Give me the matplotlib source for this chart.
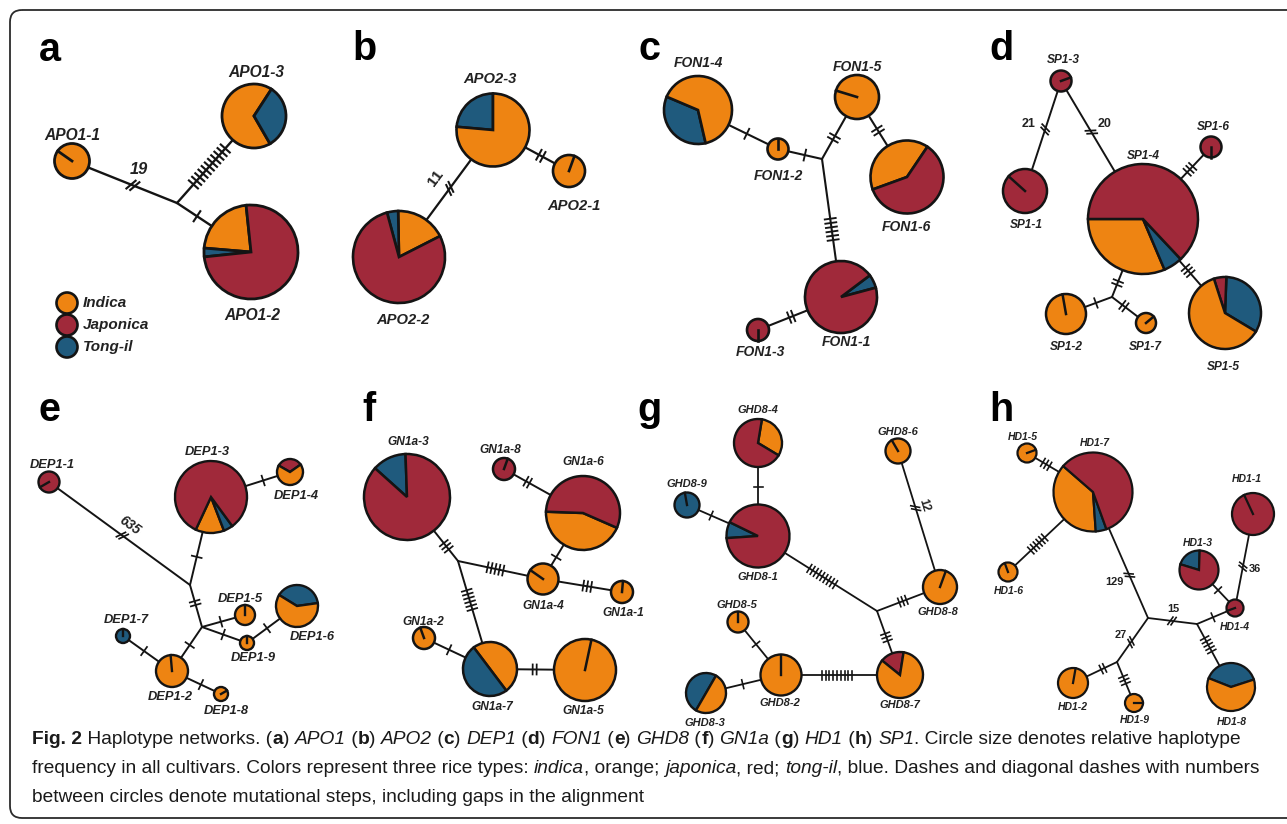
import numpy as np
import matplotlib
matplotlib.use('Agg')
import matplotlib.pyplot as plt
from matplotlib.patches import Wedge, Circle, FancyBboxPatch

# haplotype networks, layout in pixels of the 1287x824 page (y downwards)
# node: (name, x, y, radius, start angle of first slice, [(type, fraction), ...])
# type I = indica, J = japonica, T = tong-il; radius 0 = median vector (junction)
APO1_nodes = [
    ('APO1-1', 72, 161, 17.5, 145, [('I', 1.0)]),
    ('APO1-3', 254, 116, 32, 57, [('I', .675), ('T', .325)]),
    ('APO1-2', 251, 252, 47, 96, [('I', .22), ('T', .03), ('J', .75)]),
    ('ja', 177, 203, 0, 0, []),
]
# edge: (from, to, mutational steps, position along edge, number, number offset)
APO1_edges = [('APO1-1', 'ja', 2, .58, '19', 17), ('ja', 'APO1-3', 11, .42, None, 0),
              ('ja', 'APO1-2', 1, .27, None, 0)]
APO1_labels = {'APO1-1': (0, -26), 'APO1-3': (2, -44), 'APO1-2': (1, 63)}

APO2_nodes = [
    ('APO2-3', 493, 130, 36.5, 90, [('T', .236), ('I', .764)]),
    ('APO2-1', 569, 171, 16, 70, [('I', 1.0)]),
    ('APO2-2', 399, 257, 46, 27, [('I', .178), ('T', .039), ('J', .783)]),
]
APO2_edges = [('APO2-3', 'APO2-2', 2, .46, '11', -18), ('APO2-3', 'APO2-1', 2, .63, None, 0)]
APO2_labels = {'APO2-3': (-3, -51), 'APO2-1': (5, 35), 'APO2-2': (4, 63)}

FON1_nodes = [
    ('FON1-4', 698, 110, 34, 157, [('T', .35), ('I', .65)]),
    ('FON1-2', 778, 149, 10.5, 90, [('I', 1.0)]),
    ('FON1-5', 857, 97, 22, 163, [('I', 1.0)]),
    ('FON1-6', 907, 177, 36.5, 56, [('I', .40), ('J', .60)]),
    ('FON1-1', 841, 297, 36, 15, [('T', .061), ('J', .939)]),
    ('FON1-3', 758, 330, 11, 270, [('J', 1.0)]),
    ('jc', 822, 159, 0, 0, []),
]
FON1_edges = [('FON1-4', 'FON1-2', 1, .61, None, 0), ('FON1-2', 'jc', 1, .61, None, 0),
              ('jc', 'FON1-5', 2, .34, None, 0), ('FON1-5', 'FON1-6', 2, .42, None, 0),
              ('jc', 'FON1-1', 6, .51, None, 0), ('FON1-3', 'FON1-1', 2, .40, None, 0)]
FON1_labels = {'FON1-4': (0, -47), 'FON1-5': (0, -30), 'FON1-2': (0, 27),
               'FON1-6': (-1, 50), 'FON1-1': (5, 45), 'FON1-3': (2, 22)}

SP1_nodes = [
    ('SP1-3', 1061, 81, 10.5, 20, [('J', 1.0)]),
    ('SP1-1', 1025, 191, 22, 138, [('J', 1.0)]),
    ('SP1-4', 1143, 219, 55, 180, [('I', .314), ('T', .056), ('J', .63)]),
    ('SP1-6', 1211, 147, 10.5, 270, [('J', 1.0)]),
    ('SP1-5', 1225, 313, 36, -31, [('T', .33), ('J', .056), ('I', .614)]),
    ('SP1-2', 1066, 314, 20, 100, [('I', 1.0)]),
    ('SP1-7', 1146, 323, 10, 40, [('I', 1.0)]),
    ('jd', 1112, 297, 0, 0, []),
]
SP1_edges = [('SP1-3', 'SP1-1', 2, .44, '21', -17), ('SP1-3', 'SP1-4', 2, .37, '20', 15),
             ('SP1-4', 'SP1-6', 3, .69, None, 0), ('SP1-4', 'jd', 2, .82, None, 0),
             ('jd', 'SP1-2', 1, .35, None, 0), ('jd', 'SP1-7', 2, .35, None, 0),
             ('SP1-4', 'SP1-5', 3, .55, None, 0)]
SP1_labels = {'SP1-3': (2, -21), 'SP1-6': (2, -20), 'SP1-4': (0, -63), 'SP1-1': (1, 34),
              'SP1-2': (0, 33), 'SP1-7': (-1, 24), 'SP1-5': (-2, 54)}

DEP1_nodes = [
    ('DEP1-1', 49, 482, 10.5, 210, [('J', 1.0)]),
    ('DEP1-3', 211, 497, 36, 245, [('I', .128), ('T', .042), ('J', .83)]),
    ('DEP1-4', 290, 472, 13, 35, [('J', .32), ('I', .68)]),
    ('DEP1-5', 245, 615, 10, 90, [('I', 1.0)]),
    ('DEP1-6', 297, 606, 21, 8, [('T', .39), ('I', .61)]),
    ('DEP1-9', 247, 643, 7, 90, [('I', 1.0)]),
    ('DEP1-7', 123, 636, 7, 90, [('T', 1.0)]),
    ('DEP1-2', 172, 671, 16, 95, [('I', 1.0)]),
    ('DEP1-8', 221, 694, 7, 30, [('I', 1.0)]),
    ('je1', 190, 585, 0, 0, []),
    ('je2', 202, 627, 0, 0, []),
]
DEP1_edges = [('DEP1-1', 'je1', 2, .52, '635', 12), ('DEP1-3', 'je1', 1, .68, None, 0),
              ('je1', 'je2', 2, .43, None, 0), ('je2', 'DEP1-5', 1, .44, None, 0),
              ('je2', 'DEP1-9', 1, .47, None, 0), ('DEP1-9', 'DEP1-6', 1, .40, None, 0),
              ('je2', 'DEP1-2', 1, .41, None, 0), ('DEP1-7', 'DEP1-2', 1, .43, None, 0),
              ('DEP1-2', 'DEP1-8', 1, .59, None, 0), ('DEP1-3', 'DEP1-4', 1, .66, None, 0)]
DEP1_labels = {'DEP1-1': (3, -17), 'DEP1-3': (-4, -45), 'DEP1-4': (6, 24), 'DEP1-5': (-5, -16),
               'DEP1-6': (15, 31), 'DEP1-7': (3, -16), 'DEP1-9': (6, 15), 'DEP1-2': (-2, 26),
               'DEP1-8': (5, 17)}

GN1a_nodes = [
    ('GN1a-3', 407, 497, 43, 92, [('T', .128), ('J', .872)]),
    ('GN1a-8', 504, 469, 11, 70, [('J', 1.0)]),
    ('GN1a-6', 583, 513, 37, 178, [('I', .44), ('J', .56)]),
    ('GN1a-4', 543, 579, 15.5, 145, [('I', 1.0)]),
    ('GN1a-1', 622, 592, 11, 85, [('I', 1.0)]),
    ('GN1a-2', 424, 638, 11, 110, [('I', 1.0)]),
    ('GN1a-7', 490, 669, 27, -53, [('I', .5), ('T', .5)]),
    ('GN1a-5', 585, 670, 31, 78, [('I', 1.0)]),
    ('jf', 458, 561, 0, 0, []),
]
GN1a_edges = [('GN1a-3', 'jf', 3, .77, None, 0), ('jf', 'GN1a-4', 5, .44, None, 0),
              ('jf', 'GN1a-7', 6, .36, None, 0), ('GN1a-4', 'GN1a-6', 1, .33, None, 0),
              ('GN1a-8', 'GN1a-6', 2, .30, None, 0), ('GN1a-4', 'GN1a-1', 3, .56, None, 0),
              ('GN1a-2', 'GN1a-7', 1, .38, None, 0), ('GN1a-7', 'GN1a-5', 2, .47, None, 0)]
GN1a_labels = {'GN1a-3': (1, -55), 'GN1a-8': (-4, -19), 'GN1a-6': (0, -51), 'GN1a-4': (0, 27),
               'GN1a-1': (1, 21), 'GN1a-2': (-1, -16), 'GN1a-7': (2, 38), 'GN1a-5': (-2, 41)}

GHD8_nodes = [
    ('GHD8-4', 758, 443, 24, -31, [('I', .31), ('J', .69)]),
    ('GHD8-1', 758, 536, 31.5, 154, [('T', .083), ('J', .917)]),
    ('GHD8-9', 687, 505, 12.5, 100, [('T', 1.0)]),
    ('GHD8-6', 898, 451, 12.5, 120, [('I', 1.0)]),
    ('GHD8-8', 940, 587, 17, 70, [('I', 1.0)]),
    ('GHD8-7', 900, 675, 23, 81, [('J', .167), ('I', .833)]),
    ('GHD8-2', 781, 675, 20.5, 90, [('I', 1.0)]),
    ('GHD8-5', 738, 622, 10.5, 90, [('I', 1.0)]),
    ('GHD8-3', 706, 693, 20, 60, [('T', .5), ('I', .5)]),
    ('jg', 877, 611, 0, 0, []),
]
GHD8_edges = [('GHD8-4', 'GHD8-1', 1, .47, None, 0), ('GHD8-9', 'GHD8-1', 1, .34, None, 0),
              ('GHD8-1', 'jg', 9, .54, None, 0), ('jg', 'GHD8-8', 3, .41, None, 0),
              ('GHD8-6', 'GHD8-8', 2, .42, '12', 9), ('jg', 'GHD8-7', 3, .41, None, 0),
              ('GHD8-2', 'GHD8-7', 9, .47, None, 0), ('GHD8-5', 'GHD8-2', 1, .42, None, 0),
              ('GHD8-3', 'GHD8-2', 1, .49, None, 0)]
GHD8_labels = {'GHD8-4': (0, -33), 'GHD8-6': (0, -19), 'GHD8-9': (0, -21), 'GHD8-1': (0, 41),
               'GHD8-8': (-2, 25), 'GHD8-5': (-1, -17), 'GHD8-2': (-1, 28), 'GHD8-7': (0, 30),
               'GHD8-3': (-1, 30)}

HD1_nodes = [
    ('HD1-5', 1027, 453, 9.5, 20, [('I', 1.0)]),
    ('HD1-7', 1093, 492, 39.5, 139, [('I', .375), ('T', .044), ('J', .581)]),
    ('HD1-6', 1008, 572, 9.5, 110, [('I', 1.0)]),
    ('HD1-1', 1253, 514, 21, 115, [('J', 1.0)]),
    ('HD1-3', 1199, 570, 19.5, 88, [('T', .208), ('J', .792)]),
    ('HD1-4', 1235, 608, 8.5, 200, [('J', 1.0)]),
    ('HD1-8', 1231, 687, 24, 18, [('T', .39), ('I', .61)]),
    ('HD1-2', 1073, 683, 15, 80, [('I', 1.0)]),
    ('HD1-9', 1134, 703, 9, 0, [('I', 1.0)]),
    ('jh1', 1148, 618, 0, 0, []),
    ('jh2', 1197, 624, 0, 0, []),
    ('jh3', 1117, 662, 0, 0, []),
]
HD1_edges = [('HD1-5', 'HD1-7', 3, .29, None, 0), ('HD1-7', 'HD1-6', 6, .65, None, 0),
             ('HD1-7', 'jh1', 2, .66, '129', -16), ('jh1', 'jh2', 2, .49, '15', 12),
             ('jh2', 'HD1-4', 1, .42, None, 0), ('HD1-4', 'HD1-3', 1, .47, None, 0),
             ('HD1-4', 'HD1-1', 2, .44, '36', -12), ('jh2', 'HD1-8', 5, .33, None, 0),
             ('jh1', 'jh3', 2, .55, '27', -12), ('jh3', 'HD1-2', 2, .32, None, 0),
             ('jh3', 'HD1-9', 3, .44, None, 0)]
HD1_labels = {'HD1-5': (-4, -16), 'HD1-7': (2, -49), 'HD1-1': (-6, -35), 'HD1-3': (-1, -27),
              'HD1-6': (1, 19), 'HD1-4': (0, 19), 'HD1-2': (0, 24), 'HD1-9': (1, 17),
              'HD1-8': (1, 35)}

legend_types = ['I', 'J', 'T']
legend_names = ['Indica', 'Japonica', 'Tong-il']

caption = [
    [('Fig. 2', 'b'), (' Haplotype networks. (', 'r'), ('a', 'b'), (') ', 'r'), ('APO1', 'i'),
     (' (', 'r'), ('b', 'b'), (') ', 'r'), ('APO2', 'i'), (' (', 'r'), ('c', 'b'), (') ', 'r'),
     ('DEP1', 'i'), (' (', 'r'), ('d', 'b'), (') ', 'r'), ('FON1', 'i'), (' (', 'r'), ('e', 'b'),
     (') ', 'r'), ('GHD8', 'i'), (' (', 'r'), ('f', 'b'), (') ', 'r'), ('GN1a', 'i'), (' (', 'r'),
     ('g', 'b'), (') ', 'r'), ('HD1', 'i'), (' (', 'r'), ('h', 'b'), (') ', 'r'), ('SP1', 'i'),
     ('. Circle size denotes relative haplotype', 'r')],
    [('frequency in all cultivars. Colors represent three rice types: ', 'r'), ('indica', 'i'),
     (', orange; ', 'r'), ('japonica', 'i'), (', red; ', 'r'), ('tong-il', 'i'),
     (', blue. Dashes and diagonal dashes with numbers', 'r')],
    [('between circles denote mutational steps, including gaps in the alignment', 'r')],
]

COL = {'I': '#ee8412', 'J': '#a0293a', 'T': '#1f5a7d'}
INK = '#141414'
FONT = 'Liberation Sans'

panels = [
    dict(letter='a', pos=(39, 61), nodes=APO1_nodes, edges=APO1_edges, labels=APO1_labels,
         fs=11.2, tick=12, gap=4.8, elw=1.7, clw=2.0, nstyle='italic', nrot=False),
    dict(letter='b', pos=(352, 60), nodes=APO2_nodes, edges=APO2_edges, labels=APO2_labels,
         fs=10.6, tick=11, gap=4.5, elw=1.6, clw=1.9, nstyle='normal', nrot=True),
    dict(letter='c', pos=(638, 60), nodes=FON1_nodes, edges=FON1_edges, labels=FON1_labels,
         fs=10.0, tick=11, gap=4.3, elw=1.5, clw=1.9, nstyle='normal', nrot=False),
    dict(letter='d', pos=(989, 60), nodes=SP1_nodes, edges=SP1_edges, labels=SP1_labels,
         fs=8.6, tick=10, gap=4.0, elw=1.4, clw=1.8, nstyle='normal', nrot=False),
    dict(letter='e', pos=(39, 421), nodes=DEP1_nodes, edges=DEP1_edges, labels=DEP1_labels,
         fs=9.3, tick=10, gap=4.0, elw=1.4, clw=1.7, nstyle='italic', nrot=True),
    dict(letter='f', pos=(362, 421), nodes=GN1a_nodes, edges=GN1a_edges, labels=GN1a_labels,
         fs=8.6, tick=10, gap=4.0, elw=1.4, clw=1.8, nstyle='normal', nrot=False),
    dict(letter='g', pos=(637, 421), nodes=GHD8_nodes, edges=GHD8_edges, labels=GHD8_labels,
         fs=8.0, tick=9, gap=3.8, elw=1.3, clw=1.7, nstyle='normal', nrot=True),
    dict(letter='h', pos=(989, 421), nodes=HD1_nodes, edges=HD1_edges, labels=HD1_labels,
         fs=7.5, tick=9, gap=3.8, elw=1.3, clw=1.6, nstyle='normal', nrot=False),
]

W, H = 1287, 824
fig = plt.figure(figsize=(W / 100, H / 100), dpi=100)
ax = fig.add_axes([0, 0, 1, 1])
ax.set_xlim(0, W)
ax.set_ylim(H, 0)
ax.axis('off')

ax.add_patch(FancyBboxPatch((10, 10), 1320, 808, boxstyle='round,pad=0,rounding_size=12',
                            fc='none', ec='#2b2b2b', lw=1.3, zorder=0))


def draw_node(x, y, r, start, slices, lw):
    if r == 0:
        return
    if len(slices) == 1:
        ax.add_patch(Circle((x, y), r, fc=COL[slices[0][0]], ec=INK, lw=lw, zorder=3))
        a = np.radians(start)
        ax.plot([x, x + r * np.cos(a)], [y, y - r * np.sin(a)], color=INK, lw=lw, zorder=4)
        return
    a = start
    for key, frac in slices:
        span = 360 * frac
        # y axis points down, so angles flip sign
        ax.add_patch(Wedge((x, y), r, -(a + span), -a, fc=COL[key], ec=INK, lw=lw, zorder=3))
        a += span


for p in panels:
    ax.text(p['pos'][0], p['pos'][1], p['letter'], fontsize=28.5, weight='bold',
            family=FONT, va='baseline', ha='left', color='black')
    nm = {n[0]: n for n in p['nodes']}
    for a, b, k, t, lab, off in p['edges']:
        x1, y1 = nm[a][1:3]
        x2, y2 = nm[b][1:3]
        ax.plot([x1, x2], [y1, y2], color=INK, lw=p['elw'], zorder=1, solid_capstyle='round')
        dx, dy = x2 - x1, y2 - y1
        L = np.hypot(dx, dy)
        ux, uy = dx / L, dy / L
        nx, ny = -uy, ux
        if lab is not None:
            th = np.radians(-28)
            tx, ty = np.cos(th) * nx + np.sin(th) * ux, np.cos(th) * ny + np.sin(th) * uy
            gap = p['gap'] * 0.85
        else:
            tx, ty = nx, ny
            gap = p['gap']
        px, py = x1 + t * dx, y1 + t * dy
        h = p['tick'] / 2
        for i in range(k):
            o = (i - (k - 1) / 2) * gap
            cx, cy = px + o * ux, py + o * uy
            ax.plot([cx - h * tx, cx + h * tx], [cy - h * ty, cy + h * ty],
                    color=INK, lw=p['elw'] * 0.9, zorder=2)
        if lab is not None:
            lx, ly = px + off * dy / L, py - off * dx / L
            rot = 0
            if p['nrot']:
                rot = np.degrees(np.arctan2(-dy, dx))
                if rot > 90:
                    rot -= 180
                if rot <= -90:
                    rot += 180
            ax.text(lx, ly, lab, fontsize=p['fs'] * 1.05, weight='bold', style=p['nstyle'],
                    family=FONT, ha='center', va='center', rotation=rot,
                    rotation_mode='anchor', color='#222222', zorder=5)
    for name, x, y, r, start, slices in p['nodes']:
        draw_node(x, y, r, start, slices, p['clw'])
        if name in p['labels']:
            ox, oy = p['labels'][name]
            ax.text(x + ox, y + oy, name, fontsize=p['fs'], weight='bold', style='italic',
                    family=FONT, ha='center', va='center', color='#222222', zorder=5)

# legend of panel a
for i, (key, name) in enumerate(zip(legend_types, legend_names)):
    ax.add_patch(Circle((67, 303 + 22 * i), 10.5, fc=COL[key], ec=INK, lw=1.9, zorder=3))
    ax.text(83, 303 + 22 * i, name, fontsize=11, weight='bold', style='italic', family=FONT,
            ha='left', va='center', color='#222222')

# caption, mixed styles, fitted to the page width
renderer = fig.canvas.get_renderer()
STY = {'r': ('normal', 'normal'), 'b': ('bold', 'normal'), 'i': ('normal', 'italic')}


def seg_width(s, fs, kind):
    w, st = STY[kind]
    tt = ax.text(0, 0, '|' + s + '|', fontsize=fs, weight=w, style=st, family=FONT)
    w1 = tt.get_window_extent(renderer).width
    tt.set_text('||')
    w2 = tt.get_window_extent(renderer).width
    tt.remove()
    return w1 - w2


base = 12.0
w_line = sum(seg_width(s, base, k) for s, k in caption[1])
cfs = base * 1228 / w_line
for j, line in enumerate(caption):
    x = 32
    y = 744 + 29 * j
    for s, k in line:
        w, st = STY[k]
        ax.text(x, y, s, fontsize=cfs, weight=w, style=st, family=FONT, ha='left',
                va='baseline', color='#1a1a1a')
        x += seg_width(s, cfs, k)

fig.savefig('out.png', dpi=100)
